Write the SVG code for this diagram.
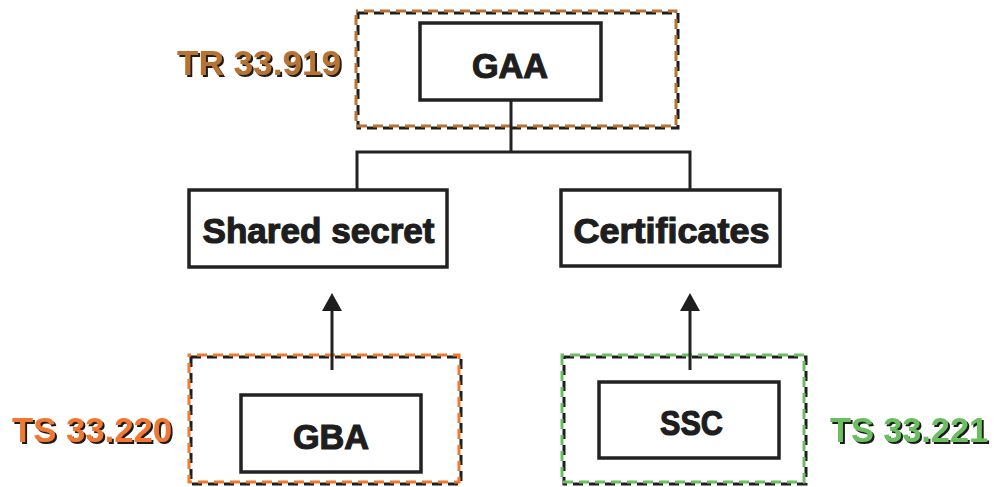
<svg xmlns="http://www.w3.org/2000/svg" width="994" height="487" viewBox="0 0 994 487">
<style>
  .box{fill:#fff;stroke:#222;stroke-width:3.5}
  .lbl{font-family:"Liberation Sans",Arial,sans-serif;font-weight:bold;fill:#1e1e1e;stroke:#1e1e1e;stroke-width:1.2;text-anchor:middle}
  .spec{font-family:"Liberation Sans",Arial,sans-serif;font-weight:bold;font-size:35px;filter:url(#shd)}
  .dash{fill:none;stroke-width:3;stroke-dasharray:10 6}
  .dk{stroke:#1e1e1e}
  .conn{fill:none;stroke:#222;stroke-width:3}
  .head{fill:#1e1e1e}
</style>
<defs>
  <filter id="shd" x="-10%" y="-20%" width="120%" height="150%">
    <feDropShadow dx="2" dy="2" stdDeviation="0.3" flood-color="#1e1e1e" flood-opacity="1"/>
  </filter>
</defs>

<g id="tr-group">
  <rect class="dash dk" x="358" y="13" width="320" height="115"/>
  <rect class="dash" stroke="#b87333" x="356" y="11" width="320" height="115" stroke-dashoffset="8"/>
  <text class="spec" fill="#b87333" x="177" y="75" textLength="164" lengthAdjust="spacingAndGlyphs">TR 33.919</text>
</g>

<g id="gba-group">
  <rect class="dash dk" x="191" y="357" width="270" height="127"/>
  <rect class="dash" stroke="#f07830" x="189" y="355" width="270" height="127" stroke-dashoffset="8"/>
  <text class="spec" fill="#f07830" x="12" y="442" textLength="160" lengthAdjust="spacingAndGlyphs">TS 33.220</text>
</g>

<g id="ssc-group">
  <rect class="dash dk" x="564" y="357" width="242" height="127"/>
  <rect class="dash" stroke="#6cbf60" x="562" y="355" width="242" height="127" stroke-dashoffset="8"/>
  <text class="spec" fill="#6cbf60" x="830" y="442" textLength="158" lengthAdjust="spacingAndGlyphs">TS 33.221</text>
</g>

<g id="connectors">
  <path class="conn" d="M511 100 V152"/>
  <path class="conn" d="M357 190 V152 H690 V190"/>
  <path class="conn" d="M332 370 V308"/>
  <polygon class="head" points="332,293 342,311 322,311"/>
  <path class="conn" d="M690 370 V308"/>
  <polygon class="head" points="690,293 700,311 680,311"/>
</g>

<g id="gaa">
  <rect class="box" x="420" y="23" width="181" height="77"/>
  <text class="lbl" x="510" y="78" font-size="35" textLength="76" lengthAdjust="spacingAndGlyphs">GAA</text>
</g>

<g id="shared-secret">
  <rect class="box" x="189" y="190" width="258" height="77"/>
  <text class="lbl" x="318.5" y="243" font-size="35" textLength="232" lengthAdjust="spacingAndGlyphs">Shared secret</text>
</g>

<g id="certificates">
  <rect class="box" x="561" y="190" width="219" height="76"/>
  <text class="lbl" x="671.5" y="243" font-size="35" textLength="196" lengthAdjust="spacingAndGlyphs">Certificates</text>
</g>

<g id="gba">
  <rect class="box" x="241" y="395" width="180" height="77"/>
  <text class="lbl" x="331" y="449" font-size="35" textLength="76" lengthAdjust="spacingAndGlyphs">GBA</text>
</g>

<g id="ssc">
  <rect class="box" x="599" y="382" width="180" height="76"/>
  <text class="lbl" x="691.5" y="435" font-size="35" textLength="63" lengthAdjust="spacingAndGlyphs">SSC</text>
</g>
</svg>
